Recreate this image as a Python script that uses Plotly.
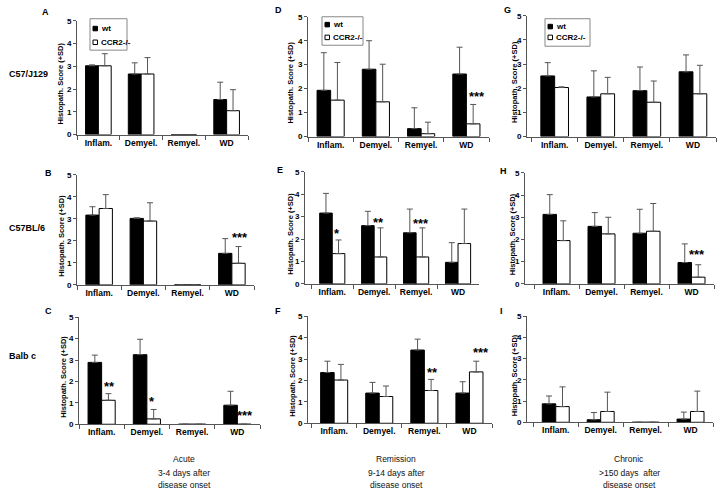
import plotly.graph_objects as go

W, H = 720, 497

categories = ["Inflam.", "Demyel.", "Remyel.", "WD"]
y_ticks = [0, 1, 2, 3, 4, 5]

# ---- data: mean histopathology scores and +SD, wt vs CCR2-/- ----
A_wt = [3.02, 2.66, 0, 1.54]
A_wt_sd = [0.04, 0.49, None, 0.76]
A_ko = [3.02, 2.66, 0, 1.05]
A_ko_sd = [0.53, 0.72, None, 0.92]

B_wt = [3.17, 3.02, 0, 1.43]
B_wt_sd = [0.38, 0.03, None, 0.67]
B_ko = [3.47, 2.90, 0, 0.98]
B_ko_sd = [0.63, 0.83, None, 0.76]

C_wt = [2.89, 3.25, 0, 0.89]
C_wt_sd = [0.34, 0.72, None, 0.65]
C_ko = [1.12, 0.25, 0, 0]
C_ko_sd = [0.31, 0.44, None, None]

D_wt = [1.93, 2.81, 0.33, 2.61]
D_wt_sd = [1.57, 1.19, 0.87, 1.12]
D_ko = [1.52, 1.45, 0.12, 0.53]
D_ko_sd = [1.57, 1.57, 0.48, 0.81]

E_wt = [3.16, 2.60, 2.28, 0.96]
E_wt_sd = [0.88, 0.64, 1.06, 0.88]
E_ko = [1.35, 1.20, 1.20, 1.80]
E_ko_sd = [0.61, 1.30, 1.30, 1.54]

F_wt = [2.37, 1.41, 3.42, 1.41]
F_wt_sd = [0.53, 0.50, 0.51, 0.53]
F_ko = [2.02, 1.25, 1.53, 2.40]
F_ko_sd = [0.73, 0.49, 0.52, 0.50]

G_wt = [2.51, 1.64, 1.90, 2.68]
G_wt_sd = [0.55, 1.08, 0.98, 0.70]
G_ko = [2.03, 1.77, 1.42, 1.77]
G_ko_sd = [0.03, 0.68, 0.88, 1.18]

H_wt = [3.13, 2.59, 2.28, 0.96]
H_wt_sd = [0.89, 0.62, 1.08, 0.84]
H_ko = [1.95, 2.25, 2.37, 0.30]
H_ko_sd = [0.89, 0.75, 1.25, 0.56]

I_wt = [0.87, 0.12, 0, 0.15]
I_wt_sd = [0.37, 0.34, None, 0.33]
I_ko = [0.74, 0.51, 0, 0.51]
I_ko_sd = [0.93, 0.91, None, 0.96]

# significance marks: (panel, category position, y, text)
stars = [
    ("D", 3.24, 1.66, "***"),
    ("B", 3.18, 2.15, "***"),
    ("E", 0.12, 2.27, "*"),
    ("E", 1.10, 2.76, "**"),
    ("E", 2.12, 2.70, "***"),
    ("H", 3.13, 1.33, "***"),
    ("C", 0.17, 1.78, "**"),
    ("C", 1.12, 1.05, "*"),
    ("C", 3.17, 0.42, "***"),
    ("F", 2.18, 2.35, "**"),
    ("F", 3.25, 3.32, "***"),
]

row_labels = ["C57/J129", "C57BL/6", "Balb c"]
col_titles = ["Acute", "Remission", "Chronic"]
col_sub1 = ["3-4 days after", "9-14 days after", ">150 days  after"]
col_sub2 = ["disease onset", "disease onset", "disease onset"]
y_title = "Histopath. Score (+SD)"
legend_names = ["wt", "CCR2-/-"]

# ---- layout geometry (pixels) ----
# name: (x_left, x_right, y_top(5), y_bottom(0), xrange_start, letter_x, letter_y, ytitle_x)
panels = {
    "A": (77, 248, 17, 133, -0.50, 45, 8, 61),
    "D": (308, 489, 13, 135, -0.50, 278, 6, 291),
    "G": (527, 716, 12, 135, -0.60, 507, 6, 514),
    "B": (77, 254, 174, 286, -0.50, 48, 172, 62),
    "E": (305, 479, 171, 285, -0.65, 280, 169, 291),
    "H": (525, 714, 172, 285, -0.70, 503, 170, 512),
    "C": (79, 260, 319, 428, -0.50, 49, 313, 64),
    "F": (308, 492, 318, 427, -0.58, 278, 313, 293),
    "I": (527, 713, 318, 426, -0.64, 501, 313, 514),
}
data = {
    "A": (A_wt, A_wt_sd, A_ko, A_ko_sd),
    "B": (B_wt, B_wt_sd, B_ko, B_ko_sd),
    "C": (C_wt, C_wt_sd, C_ko, C_ko_sd),
    "D": (D_wt, D_wt_sd, D_ko, D_ko_sd),
    "E": (E_wt, E_wt_sd, E_ko, E_ko_sd),
    "F": (F_wt, F_wt_sd, F_ko, F_ko_sd),
    "G": (G_wt, G_wt_sd, G_ko, G_ko_sd),
    "H": (H_wt, H_wt_sd, H_ko, H_ko_sd),
    "I": (I_wt, I_wt_sd, I_ko, I_ko_sd),
}

FONT = "Liberation Sans, Arial, sans-serif"
AX = "#555555"


def px(x):
    return x / W


def py(y):
    return 1 - y / H


fig = go.Figure()
layout = dict(
    width=W, height=H, autosize=False,
    margin=dict(l=0, r=0, t=0, b=0),
    paper_bgcolor="white", plot_bgcolor="white",
    barmode="group", bargap=0.4, bargroupgap=0.0,
    showlegend=False,
    font=dict(family=FONT, color="black"),
)
annotations = []
shapes = []
axis_of = {}

for i, (name, geo) in enumerate(panels.items(), start=1):
    xl, xr, yt, yb, x0, lx, ly, tx = geo
    xa = "x" if i == 1 else f"x{i}"
    ya = "y" if i == 1 else f"y{i}"
    axis_of[name] = (xa, ya)
    wt, wt_sd, ko, ko_sd = data[name]
    for vals, sd, fill, nm in ((wt, wt_sd, "black", legend_names[0]),
                               (ko, ko_sd, "white", legend_names[1])):
        fig.add_trace(go.Bar(
            x=categories, y=vals, name=nm, xaxis=xa, yaxis=ya,
            marker=dict(color=fill, line=dict(color="black", width=1)),
            error_y=dict(type="data", array=sd, arrayminus=[0] * 4,
                         symmetric=False, color="#555555",
                         thickness=1, width=3),
            hoverinfo="x+y",
        ))
    layout["xaxis" if i == 1 else f"xaxis{i}"] = dict(
        domain=[px(xl), px(xr)], anchor=ya, type="category",
        categoryorder="array", categoryarray=categories,
        range=[x0, 3.5], showline=True, linecolor=AX, linewidth=1,
        ticks="outside", tickson="boundaries", ticklen=4, tickcolor=AX,
        showgrid=False, zeroline=False,
        tickfont=dict(family=FONT, size=8.5, color="black", weight="bold"),
        fixedrange=True,
    )
    layout["yaxis" if i == 1 else f"yaxis{i}"] = dict(
        domain=[py(yb), py(yt)], anchor=xa, range=[0, 5],
        tickvals=y_ticks, showline=True, linecolor=AX, linewidth=1,
        ticks="outside", ticklen=3, tickcolor=AX,
        showgrid=False, zeroline=False,
        tickfont=dict(family=FONT, size=8, color="black", weight="bold"),
        fixedrange=True,
    )
    # panel letter
    annotations.append(dict(
        text=name, x=px(lx), y=py(ly), xref="paper", yref="paper",
        xanchor="center", yanchor="middle", showarrow=False,
        font=dict(family=FONT, size=9, weight="bold")))
    # y axis title
    annotations.append(dict(
        text=y_title, x=px(tx), y=py((yt + yb) / 2 + 6),
        xref="paper", yref="paper", textangle=-90,
        xanchor="center", yanchor="middle", showarrow=False,
        font=dict(family=FONT, size=7.5, weight="bold")))

for pname, xpos, ypos, txt in stars:
    xa, ya = axis_of[pname]
    annotations.append(dict(
        text=txt, x=xpos, y=ypos, xref=xa, yref=ya,
        xanchor="center", yanchor="middle", showarrow=False,
        font=dict(family=FONT, size=13, weight="bold")))

# row labels
for lab, yy in zip(row_labels, [71, 228, 359]):
    annotations.append(dict(
        text=lab, x=px(7), y=py(yy), xref="paper", yref="paper",
        xanchor="left", yanchor="middle", showarrow=False,
        font=dict(family=FONT, size=9, weight="bold")))

# column (time point) labels
for cx, t, s1, s2 in zip([184, 396, 629], col_titles, col_sub1, col_sub2):
    for txt, yy in ((t, 463), (s1, 478), (s2, 490)):
        annotations.append(dict(
            text=txt, x=px(cx), y=py(yy), xref="paper", yref="paper",
            xanchor="center", yanchor="middle", showarrow=False,
            font=dict(family=FONT, size=8.5, color="#111111")))

# legends (drawn boxes): (box x0, y0, x1, y1, item1 y, item2 y)
legend_boxes = [(90, 15, 127, 47, 25, 39), (322, 13, 363, 42, 21, 34),
                (545, 15, 590, 43, 23, 34)]
for bx0, by0, bx1, by1, iy1, iy2 in legend_boxes:
    shapes.append(dict(type="rect", xref="paper", yref="paper",
                       x0=px(bx0), x1=px(bx1), y0=py(by1), y1=py(by0),
                       line=dict(color="#888888", width=1), fillcolor="white"))
    for iy, fill, nm in ((iy1, "black", legend_names[0]),
                         (iy2, "white", legend_names[1])):
        shapes.append(dict(type="rect", xref="paper", yref="paper",
                           x0=px(bx0 + 3), x1=px(bx0 + 7.5),
                           y0=py(iy + 2.3), y1=py(iy - 2.3),
                           line=dict(color="black", width=1), fillcolor=fill))
        annotations.append(dict(
            text=nm, x=px(bx0 + 9), y=py(iy), xref="paper", yref="paper",
            xanchor="left", yanchor="middle", showarrow=False,
            font=dict(family=FONT, size=8, weight="bold")))

layout["annotations"] = annotations
layout["shapes"] = shapes
fig.update_layout(**layout)
fig.write_html(
    "out.html",
    config={"displayModeBar": False},
    post_script="document.body.style.margin='0px';"
                "document.body.style.overflow='hidden';",
)
